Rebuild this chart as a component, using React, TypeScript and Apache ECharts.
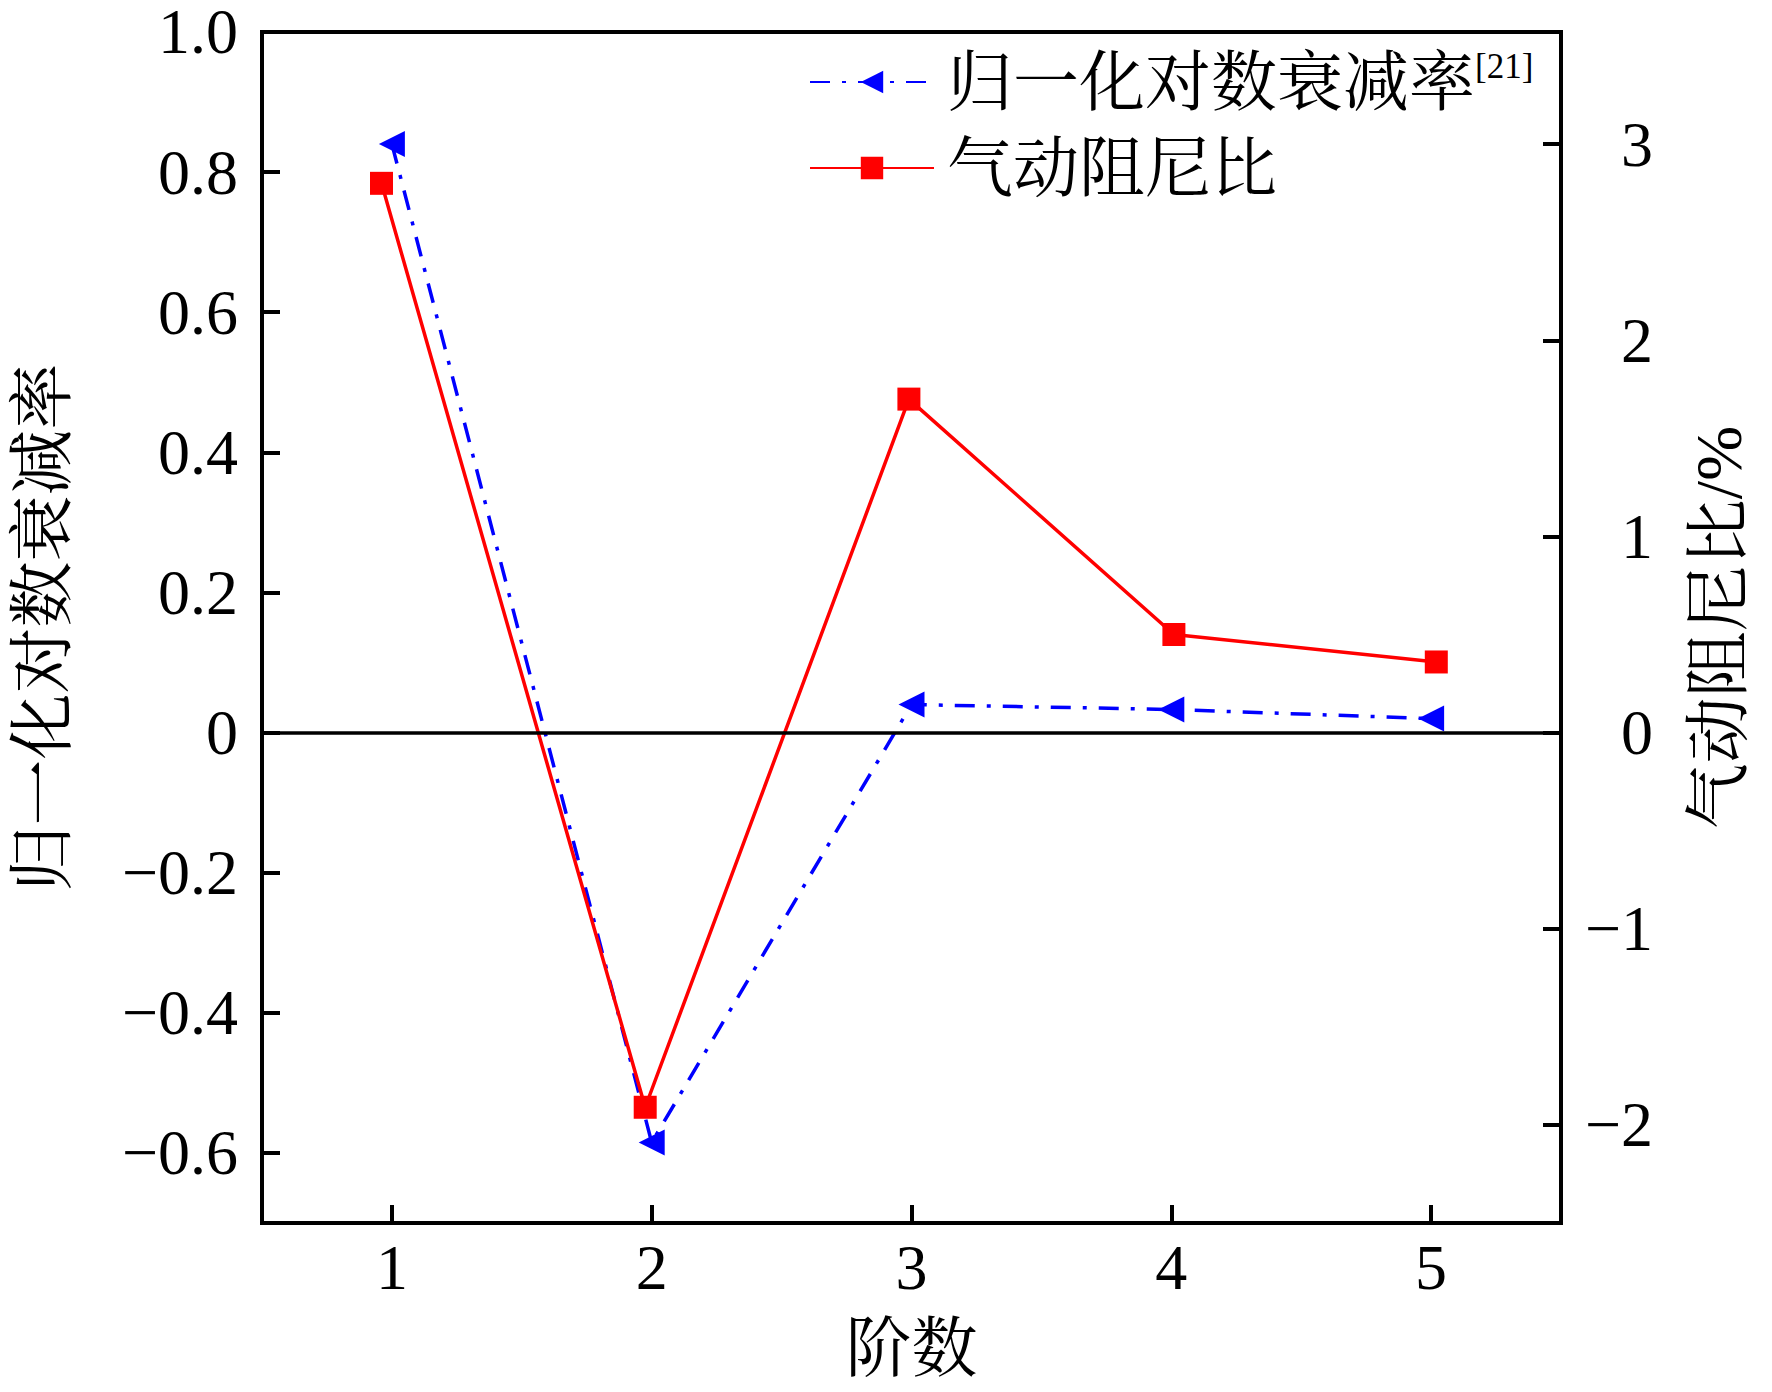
import React, { useEffect, useRef } from "react";
import * as echarts from "echarts";

// ---- data ----
const orders = [1, 2, 3, 4, 5];
const logDecrement = [0.84, -0.585, 0.04, 0.033, 0.02];
const dampingX = [0.96, 1.975, 2.99, 4.01, 5.02];
const dampingRatio = [2.8, -1.91, 1.7, 0.5, 0.36];
const leftTicks = [-0.6, -0.4, -0.2, 0, 0.2, 0.4, 0.6, 0.8, 1.0];
const rightTicks = [-2, -1, 0, 1, 2, 3];
const xTicks = [1, 2, 3, 4, 5];
const seriesNames = ["归一化对数衰减率", "气动阻尼比"];
const refMark = "[21]";
const xName = "阶数";
const leftName = "归一化对数衰减率";
const rightName = "气动阻尼比/%";

const serif =
  "'Liberation Serif', 'Times New Roman', 'Noto Serif CJK SC', 'Noto Sans CJK SC', serif";

const fmtMinus = (s: string) => s.replace("-", "\u2212");

export default function App() {
  const ref = useRef<HTMLDivElement>(null);

  useEffect(() => {
    document.body.style.margin = "0";
    document.body.style.overflow = "hidden";
    if (!ref.current) return;
    const chart = echarts.init(ref.current, undefined, { renderer: "svg" });

    const axisLineStyle = { color: "#000", width: 4 };
    const tickStyle = { color: "#000", width: 4 };

    const option: any = {
      animation: false,
      backgroundColor: "#fff",
      grid: {
        left: 262,
        right: 211,
        top: 31,
        bottom: 169,
        show: true,
        borderColor: "#000",
        borderWidth: 4,
        backgroundColor: "transparent",
      },
      legend: {
        orient: "vertical",
        left: 809,
        top: 49,
        padding: 0,
        itemGap: 20,
        itemWidth: 124,
        itemHeight: 28,
        data: seriesNames.map((n) => ({ name: n })),
        formatter: (name: string) =>
          name === seriesNames[0] ? `{a|${name}}{s|${refMark}}` : `{a|${name}}`,
        textStyle: {
          color: "#000",
          fontFamily: serif,
          fontSize: 66,
          rich: {
            a: {
              fontSize: 66,
              lineHeight: 66,
              fontFamily: serif,
              color: "#000",
              padding: [0, 0, 0, 8],
            },
            s: {
              fontSize: 35,
              lineHeight: 36,
              fontFamily: serif,
              color: "#000",
              verticalAlign: "top",
            },
          },
        },
      },
      xAxis: {
        type: "value",
        min: 0.5,
        max: 5.5,
        name: xName,
        nameLocation: "middle",
        nameGap: 92,
        nameTextStyle: { fontSize: 66, fontFamily: serif, color: "#000" },
        axisLine: { show: true, onZero: false, lineStyle: axisLineStyle },
        axisTick: {
          show: true,
          inside: true,
          length: 18,
          lineStyle: tickStyle,
          customValues: xTicks,
        },
        axisLabel: {
          customValues: xTicks,
          fontSize: 64,
          fontFamily: serif,
          color: "#000",
          margin: 12,
        },
        splitLine: { show: false },
      },
      yAxis: [
        {
          type: "value",
          position: "left",
          min: -0.7,
          max: 1.0,
          name: leftName,
          nameLocation: "middle",
          nameRotate: 90,
          nameGap: 187,
          nameTextStyle: { fontSize: 66, fontFamily: serif, color: "#000" },
          axisLine: { show: true, onZero: false, lineStyle: axisLineStyle },
          axisTick: {
            show: true,
            inside: true,
            length: 18,
            lineStyle: tickStyle,
            customValues: leftTicks,
          },
          axisLabel: {
            customValues: leftTicks,
            fontSize: 64,
            lineHeight: 54,
            fontFamily: serif,
            color: "#000",
            margin: 24,
            formatter: (v: number) =>
              Math.abs(v) < 1e-9 ? "0" : fmtMinus(v.toFixed(1)),
          },
          splitLine: { show: false },
        },
        {
          type: "value",
          position: "right",
          min: -2.5,
          max: 2.5 / 0.7,
          name: rightName,
          nameLocation: "middle",
          nameRotate: 90,
          nameGap: 124,
          nameTextStyle: { fontSize: 66, fontFamily: serif, color: "#000" },
          axisLine: { show: true, onZero: false, lineStyle: axisLineStyle },
          axisTick: {
            show: true,
            inside: true,
            length: 18,
            lineStyle: tickStyle,
            customValues: rightTicks,
          },
          axisLabel: {
            customValues: rightTicks,
            fontSize: 64,
            lineHeight: 54,
            fontFamily: serif,
            color: "#000",
            margin: 92,
            align: "right",
            formatter: (v: number) => fmtMinus(String(v)),
          },
          splitLine: { show: false },
        },
      ],
      series: [
        {
          name: seriesNames[0],
          type: "line",
          yAxisIndex: 0,
          data: orders.map((x, i) => [x, logDecrement[i]]),
          symbol: "triangle",
          symbolRotate: 90,
          symbolSize: 26,
          itemStyle: { color: "#0000ff" },
          lineStyle: { color: "#0000ff", width: 3.5, type: [20, 12, 4, 12] },
          z: 3,
          markLine: {
            silent: true,
            symbol: ["none", "none"],
            label: { show: false },
            lineStyle: { color: "#000", width: 3.5, type: "solid" },
            emphasis: { disabled: true },
            data: [{ yAxis: 0 }],
          },
        },
        {
          name: seriesNames[1],
          type: "line",
          yAxisIndex: 1,
          data: dampingX.map((x, i) => [x, dampingRatio[i]]),
          symbol: "rect",
          symbolSize: 23,
          itemStyle: { color: "#ff0000" },
          lineStyle: { color: "#ff0000", width: 3.5, type: "solid" },
          z: 4,
        },
      ],
    };

    chart.setOption(option);
    return () => chart.dispose();
  }, []);

  return <div ref={ref} style={{ width: 1772, height: 1392, background: "#fff" }} />;
}
